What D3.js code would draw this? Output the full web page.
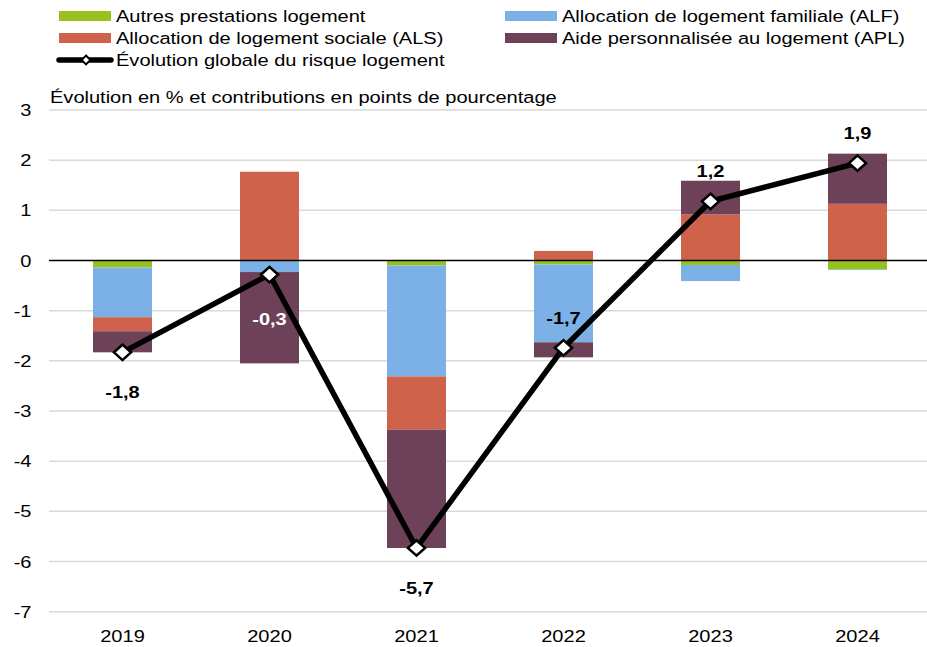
<!DOCTYPE html>
<html lang="fr">
<head>
<meta charset="utf-8">
<script src="https://cdn.jsdelivr.net/npm/d3@7"></script>
<style>
  html, body { margin: 0; padding: 0; background: #fff; }
  svg { display: block; font-family: "Liberation Sans", Arial, sans-serif; }
</style>
</head>
<body>
<svg id="chart" width="927" height="647"></svg>
<script>
// Years shown on the x axis
const years = ["2019", "2020", "2021", "2022", "2023", "2024"];

// Contributions (percentage points) of each benefit to the overall change
const autresPrestations = [-0.14, -0.01, -0.10, -0.08, -0.09, -0.18];
const alf = [-0.99, -0.22, -2.21, -1.55, -0.32, -0.01];
const als = [-0.28, 1.77, -1.06, 0.19, 0.92, 1.13];
const apl = [-0.42, -1.82, -2.36, -0.30, 0.67, 1.00];

// Overall change of housing risk spending (%)
const evolutionGlobale = [-1.83, -0.28, -5.73, -1.74, 1.18, 1.94];
// Where each total's label sits relative to its marker
const labelSide = ["below", "inside", "below", "above", "above", "above"];

const yTicks = [3, 2, 1, 0, -1, -2, -3, -4, -5, -6, -7];

const seriesDefs = [
  { key: "autres", name: "Autres prestations logement", values: autresPrestations, color: "#97c11f" },
  { key: "alf", name: "Allocation de logement familiale (ALF)", values: alf, color: "#7cb1e8" },
  { key: "als", name: "Allocation de logement sociale (ALS)", values: als, color: "#cf624a" },
  { key: "apl", name: "Aide personnalisée au logement (APL)", values: apl, color: "#6d4259" }
];

const svg = d3.select("#chart");
const plotLeft = 49, plotRight = 927;
const FS = 16.7;      // base font size
const SX = 1.2;       // horizontal widening of the text

// Text helper: glyphs are drawn slightly wide
function label(parent, x, y, str, opts = {}) {
  return parent.append("text")
    .attr("transform", `translate(${x},${y}) scale(${SX},1)`)
    .attr("text-anchor", opts.anchor || "start")
    .attr("font-size", opts.size || FS)
    .attr("font-weight", opts.weight || "normal")
    .attr("fill", opts.fill || "#000")
    .text(str);
}

const x = d3.scaleBand().domain(years).range([49, 931]).paddingInner(0.6).paddingOuter(0.3);
const y = d3.scaleLinear().domain([-7, 3]).range([611.7, 110]);

const rows = years.map((yr, i) => {
  const r = { year: yr };
  seriesDefs.forEach(s => r[s.key] = s.values[i]);
  return r;
});

const stacked = d3.stack()
  .keys(seriesDefs.map(s => s.key))
  .order(d3.stackOrderNone)
  .offset(d3.stackOffsetDiverging)(rows);

// Gridlines and y tick labels
svg.append("g").selectAll("line").data(yTicks.filter(t => t !== 0)).join("line")
  .attr("x1", plotLeft).attr("x2", plotRight)
  .attr("y1", d => y(d)).attr("y2", d => y(d))
  .attr("stroke", "#d9d9d9").attr("stroke-width", 1.5);

const yLab = svg.append("g");
yTicks.forEach(t => label(yLab, 31.5, y(t) + 6, String(t), { anchor: "end" }));

// Stacked bars
const bw = 59;
svg.append("g").selectAll("g").data(stacked).join("g")
  .attr("fill", (d, i) => seriesDefs[i].color)
  .selectAll("rect").data(d => d).join("rect")
  .attr("x", d => x(d.data.year) + x.bandwidth() / 2 - bw / 2)
  .attr("width", bw)
  .attr("y", d => y(Math.max(d[0], d[1])))
  .attr("height", d => Math.abs(y(d[0]) - y(d[1])));

// Zero line
svg.append("line")
  .attr("x1", plotLeft).attr("x2", plotRight)
  .attr("y1", y(0)).attr("y2", y(0))
  .attr("stroke", "#000").attr("stroke-width", 1.5);

// Overall change line with diamond markers
const cx = i => x(years[i]) + x.bandwidth() / 2;
svg.append("path").datum(evolutionGlobale)
  .attr("d", d3.line().x((d, i) => cx(i)).y(d => y(d)))
  .attr("fill", "none")
  .attr("stroke", "#000").attr("stroke-width", 5.5).attr("stroke-linejoin", "miter");

const diamond = d3.symbol().type(d3.symbolDiamond2).size(150);
svg.append("g").selectAll("path").data(evolutionGlobale).join("path")
  .attr("d", diamond)
  .attr("transform", (d, i) => `translate(${cx(i)},${y(d)}) scale(1.12,1)`)
  .attr("fill", "#fff").attr("stroke", "#000").attr("stroke-width", 2.4);

// Value labels
const fmt = v => d3.format(".1f")(v).replace(".", ",").replace("−", "-");
const valLab = svg.append("g");
evolutionGlobale.forEach((v, i) => {
  const side = labelSide[i];
  const ly = side === "above" ? y(v) - 24 : side === "inside" ? y(v) + 50 : y(v) + 46;
  label(valLab, cx(i), ly, fmt(v), {
    anchor: "middle", weight: "bold",
    fill: side === "inside" ? "#fff" : "#000"
  });
});

// X axis labels
const xLab = svg.append("g");
years.forEach(yr => label(xLab, x(yr) + x.bandwidth() / 2, 642, yr, { anchor: "middle" }));

// Axis title
label(svg, 50, 103, "Évolution en % et contributions en points de pourcentage");

// Legend
const legendItems = [
  { s: seriesDefs[0], col: 0, row: 0 },
  { s: seriesDefs[1], col: 1, row: 0 },
  { s: seriesDefs[2], col: 0, row: 1 },
  { s: seriesDefs[3], col: 1, row: 1 }
];
const colX = [59, 505];
const rowY = [16, 38, 60];
const lg = svg.append("g");
legendItems.forEach(it => {
  lg.append("rect")
    .attr("x", colX[it.col]).attr("y", rowY[it.row] - 5)
    .attr("width", 52).attr("height", 10)
    .attr("fill", it.s.color);
  label(lg, colX[it.col] + 57, rowY[it.row] + 6, it.s.name);
});
lg.append("line")
  .attr("x1", colX[0]).attr("x2", colX[0] + 52)
  .attr("y1", rowY[2]).attr("y2", rowY[2])
  .attr("stroke", "#000").attr("stroke-width", 5.5).attr("stroke-linecap", "round");
lg.append("path")
  .attr("d", d3.symbol().type(d3.symbolDiamond2).size(50))
  .attr("transform", `translate(${colX[0] + 27},${rowY[2]})`)
  .attr("fill", "#fff").attr("stroke", "#000").attr("stroke-width", 2);
label(lg, colX[0] + 57, rowY[2] + 6, "Évolution globale du risque logement");
</script>
</body>
</html>
